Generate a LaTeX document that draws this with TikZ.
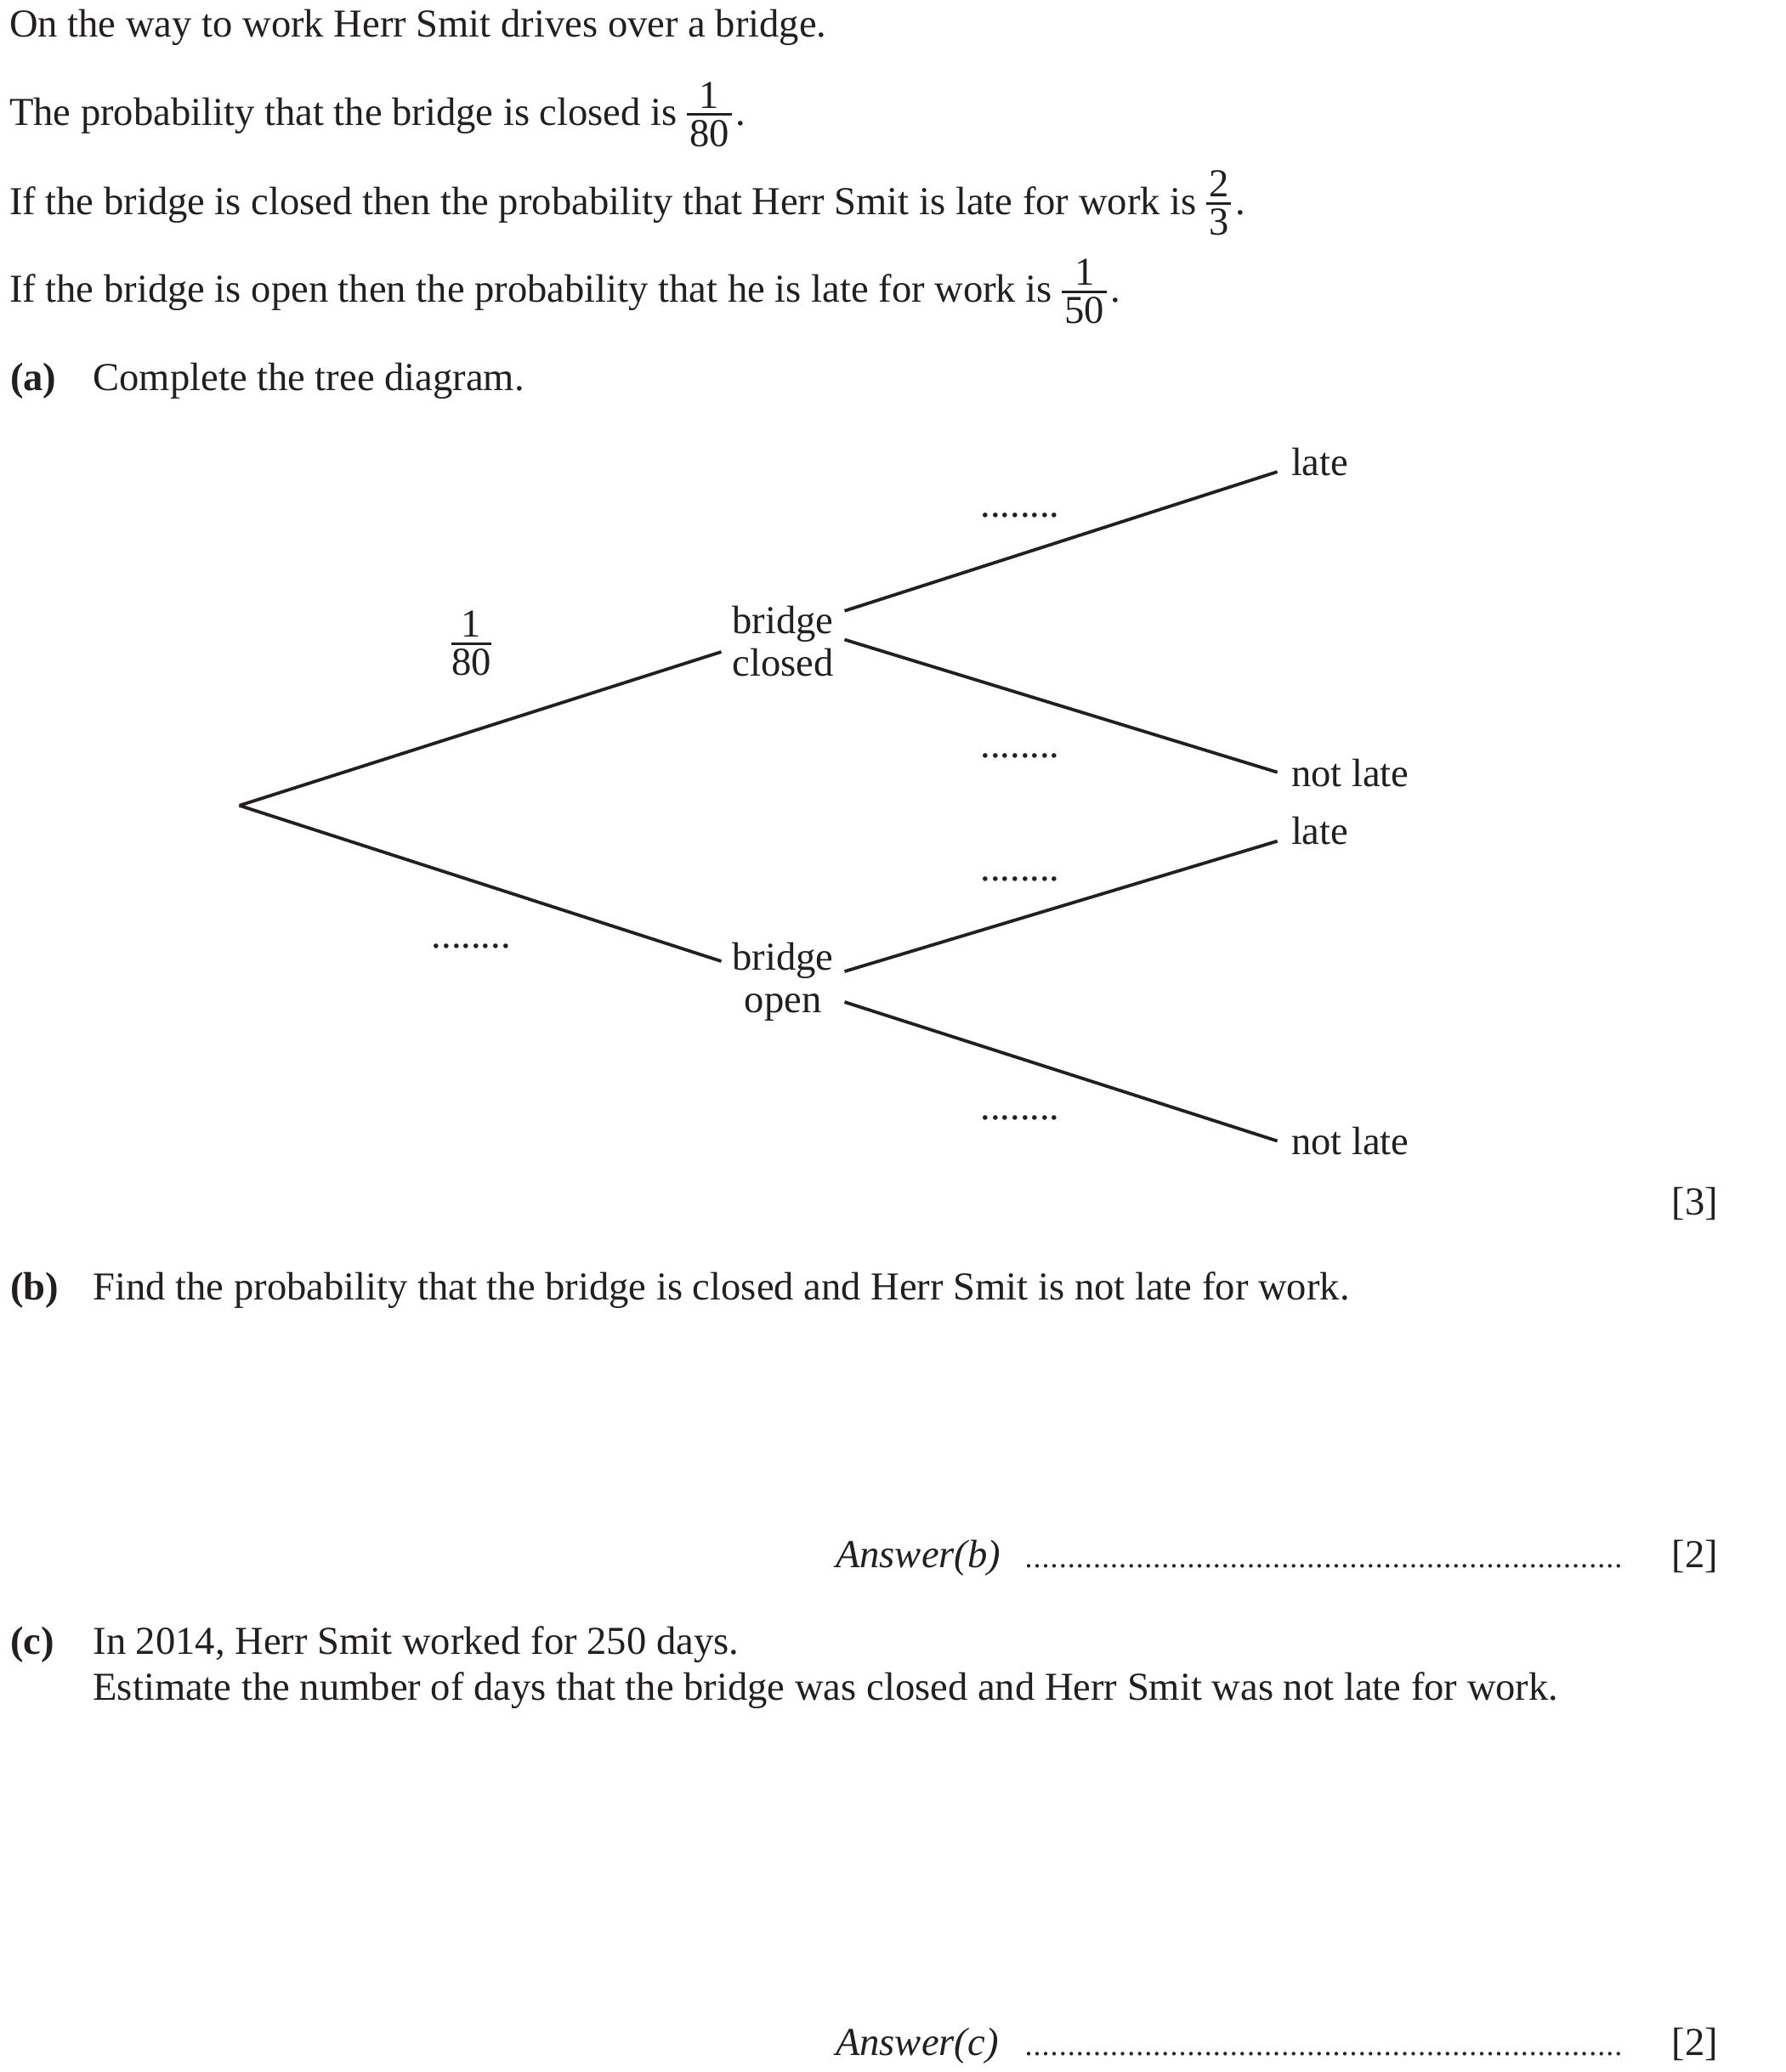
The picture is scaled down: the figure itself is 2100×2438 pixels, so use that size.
\documentclass[tikz,border=0pt]{standalone}
\usepackage{fontspec}
\setmainfont{Liberation Serif}
\definecolor{ink}{RGB}{35,31,32}
\newcommand\mainfs{\fontsize{11.65pt}{12.5pt}\selectfont}
\newcommand\qfrac[3][0.13em]{{%
  \setbox0=\hbox{#2}\setbox2=\hbox{#3}%
  \dimen0=\wd0 \ifdim\wd2>\dimen0 \dimen0=\wd2 \fi
  \advance\dimen0 by #1\relax
  \hbox to\dimen0{%
    \rlap{\raise0.44em\hbox to\dimen0{\hss\box0\hss}}%
    \rlap{\lower0.53em\hbox to\dimen0{\hss\box2\hss}}%
    \vrule width\dimen0 height0.309em depth-0.245em}}}
\newcommand\ansdots{{\fontsize{9pt}{10pt}\selectfont\hbox to 176pt{\xleaders\hbox to 2.5pt{\hss.\hss}\hfill}}}
\begin{document}
\begin{tikzpicture}[x=0.25pt,y=-0.25pt,
  every node/.style={inner sep=0pt,outer sep=0pt,text=ink,font=\mainfs},
  txt/.style={anchor=base west},
  rtxt/.style={anchor=base east},
  ctr/.style={anchor=base},
  mid/.style={align=center,inner xsep=3.25pt,inner ysep=0pt},
  leaf/.style={anchor=base west},
  br/.style={draw=ink,line width=0.95pt}]
\fill[white] (0,0) rectangle (2100,2438);
\useasboundingbox (0,0) rectangle (2100,2438);

% question text
\node[txt] (t1) at (11,43.3) {On the way to work Herr Smit drives over a bridge.};
\node[txt] (t2) at (11,147.7) {The probability that the bridge is closed is \qfrac{1}{80}\kern0.1em.};
\node[txt] (t3) at (11,252.3) {If the bridge is closed then the probability that Herr Smit is late for work is \qfrac{2}{3}\kern0.1em.};
\node[txt] (t4) at (11,356) {If the bridge is open then the probability that he is late for work is \qfrac{1}{50}\kern0.1em.};
\node[txt] (la) at (12,460) {\bfseries (a)};
\node[txt] (ta) at (109.5,460) {Complete the tree diagram.};

% tree
\coordinate (root) at (281.6,947.8);
\node[mid] (closed) at (921,754.4) {bridge\\closed};
\node[mid] (open) at (921,1155.2) {bridge\\open};
\node[leaf] (cl) at (1519,560) {late};
\node[leaf] (cnl) at (1519,925) {not late};
\node[leaf] (ol) at (1519,993.7) {late};
\node[leaf] (onl) at (1519,1358) {not late};

\draw[br] (root) -- ([yshift=-3.15pt]closed.west);
\draw[br] (root) -- ([yshift=6.05pt]open.west);
\draw[br] ([yshift=8.9pt]closed.east) -- ([xshift=-4.1pt,yshift=1.22pt]cl.base west);
\draw[br] ([yshift=0.45pt]closed.east) -- ([xshift=-4.1pt,yshift=4.08pt]cnl.base west);
\draw[br] ([yshift=3.05pt]open.east) -- ([xshift=-4.1pt,yshift=1pt]ol.base west);
\draw[br] ([yshift=-5.95pt]open.east) -- ([xshift=-4.1pt,yshift=3.87pt]onl.base west);

\node[ctr] (p1) at (554.6,770) {\qfrac[0pt]{1}{80}};
\node[ctr] (d0) at (554.3,1115.5) {........};
\node[ctr] (d1) at (1200,608.5) {........};
\node[ctr] (d2) at (1200,891.5) {........};
\node[ctr] (d3) at (1200,1036) {........};
\node[ctr] (d4) at (1200,1317.5) {........};

\node[rtxt] (m3) at (2021,1429) {[3]};

% part (b)
\node[txt] (lb) at (12,1529.5) {\bfseries (b)};
\node[txt] (tb) at (109.5,1529.5) {Find the probability that the bridge is closed and Herr Smit is not late for work.};
\node[txt] (ab) at (983,1844) {\itshape Answer(b)};
\node[txt] (db) at (1205,1844) {\ansdots};
\node[rtxt] (mb) at (2021,1844) {[2]};

% part (c)
\node[txt] (lc) at (12,1946) {\bfseries (c)};
\node[txt] (tc1) at (109.5,1946) {In 2014, Herr Smit worked for 250 days.};
\node[txt] (tc2) at (109.5,2000.5) {Estimate the number of days that the bridge was closed and Herr Smit was not late for work.};
\node[txt] (ac) at (983,2418.5) {\itshape Answer(c)};
\node[txt] (dc) at (1205,2418.5) {\ansdots};
\node[rtxt] (mc) at (2021,2418.5) {[2]};
\end{tikzpicture}
\end{document}
